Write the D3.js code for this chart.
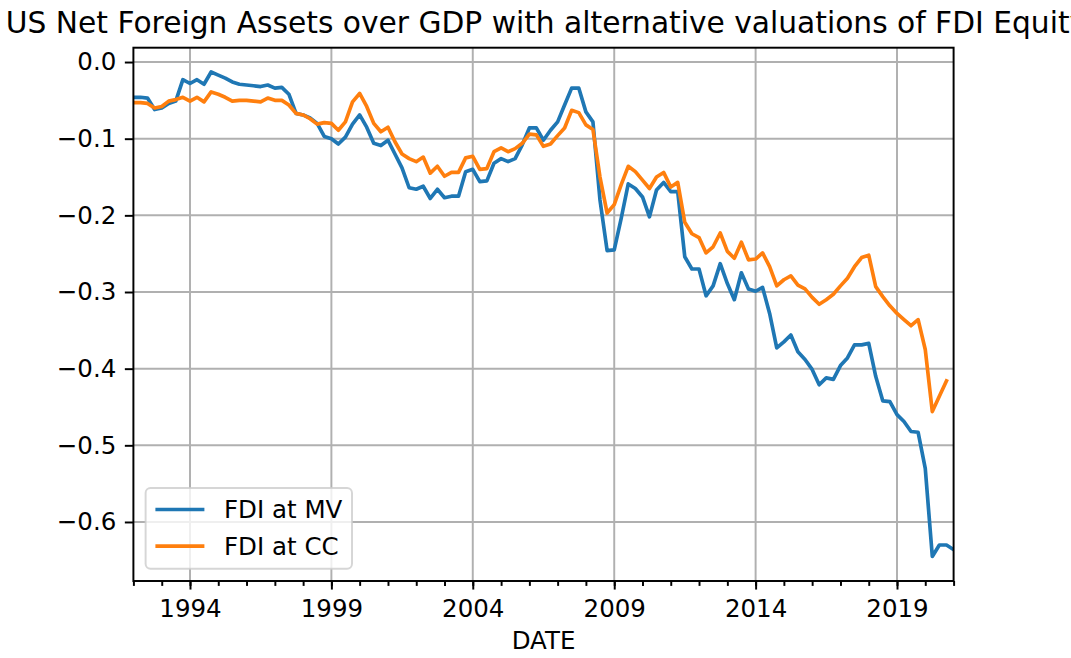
<html>
    <head>
        <meta charset="utf-8">
        <script src="https://d3js.org/d3.v7.min.js"></script>
        <style>
            body { margin: 0; background: #fff; }
            svg text { font-family: 'DejaVu Sans', sans-serif; fill: #000; }
        </style>
    </head>
    <body>
        <svg width="1071" height="658"></svg>
        <script>
            // quarterly values, 1992Q1 onward
            var mvValues = [
                -0.046, -0.046, -0.047, -0.062, -0.060, -0.054, -0.051, -0.023, -0.028, -0.023,
                -0.029, -0.013, -0.017, -0.021, -0.026, -0.029, -0.030, -0.031, -0.032, -0.030,
                -0.034, -0.033, -0.042, -0.067, -0.069, -0.073, -0.080, -0.097, -0.100, -0.107,
                -0.098, -0.081, -0.069, -0.085, -0.106, -0.109, -0.102, -0.120, -0.138, -0.164,
                -0.166, -0.162, -0.178, -0.166, -0.177, -0.175, -0.175, -0.143, -0.140, -0.156,
                -0.155, -0.132, -0.126, -0.130, -0.126, -0.108, -0.086, -0.086, -0.102, -0.089,
                -0.078, -0.056, -0.034, -0.034, -0.065, -0.078, -0.180, -0.246, -0.245, -0.204,
                -0.159, -0.165, -0.176, -0.202, -0.167, -0.157, -0.169, -0.169, -0.254, -0.270,
                -0.270, -0.305, -0.292, -0.263, -0.289, -0.310, -0.275, -0.296, -0.299, -0.294,
                -0.328, -0.373, -0.365, -0.356, -0.378, -0.388, -0.401, -0.421, -0.412, -0.414,
                -0.396, -0.386, -0.369, -0.369, -0.367, -0.410, -0.442, -0.443, -0.460, -0.469,
                -0.482, -0.483, -0.530, -0.645, -0.630, -0.630, -0.636
            ];
            var ccValues = [
                -0.053, -0.053, -0.054, -0.060, -0.058, -0.051, -0.049, -0.046, -0.051, -0.046,
                -0.052, -0.039, -0.042, -0.046, -0.051, -0.050, -0.050, -0.051, -0.052, -0.047,
                -0.050, -0.050, -0.056, -0.067, -0.069, -0.074, -0.081, -0.079, -0.080, -0.089,
                -0.078, -0.052, -0.041, -0.058, -0.080, -0.091, -0.085, -0.104, -0.120, -0.126,
                -0.130, -0.124, -0.145, -0.136, -0.149, -0.144, -0.144, -0.125, -0.123, -0.140,
                -0.139, -0.117, -0.112, -0.117, -0.113, -0.106, -0.094, -0.095, -0.110, -0.107,
                -0.096, -0.086, -0.063, -0.066, -0.082, -0.088, -0.150, -0.197, -0.186, -0.160,
                -0.136, -0.143, -0.154, -0.165, -0.150, -0.144, -0.163, -0.157, -0.209, -0.224,
                -0.229, -0.249, -0.241, -0.223, -0.247, -0.256, -0.235, -0.258, -0.257, -0.249,
                -0.267, -0.292, -0.284, -0.279, -0.291, -0.296, -0.307, -0.316, -0.310, -0.303,
                -0.292, -0.282, -0.267, -0.255, -0.252, -0.293, -0.306, -0.318, -0.328, -0.336,
                -0.344, -0.336, -0.375, -0.456, -0.436, -0.416
            ];
            var seriesNames = ['FDI at MV', 'FDI at CC'];
            var majorYears = [1994, 1999, 2004, 2009, 2014, 2019];
            var minorYears = d3.range(1992, 2022);
            var yTicks = [0, -0.1, -0.2, -0.3, -0.4, -0.5, -0.6];

            var quarters = mvValues.map((d, i) => new Date(1992, i * 3, 1));

            // plot box (don't call it "top": that's window.top)
            var plotL = 133.4, plotR = 953.6, plotT = 47.7, plotB = 581;
            var fs = 24.5;
            var colors = ['#1f77b4', '#ff7f0e'];

            var svg = d3.select('svg');
            svg.append('rect').attr('width', 1071).attr('height', 658).attr('fill', '#fff');

            var x = d3.scaleTime()
                .domain([new Date(1992, 0, 1), new Date(2021, 0, 1)])
                .range([plotL, plotR]);
            var y = d3.scaleLinear()
                .domain([-0.677, 0.0187])
                .range([plotB, plotT]);

            // grid
            var grid = svg.append('g').attr('stroke', '#b0b0b0').attr('stroke-width', 1.96);
            grid.selectAll('.gx').data(majorYears).enter().append('line')
                .attr('x1', d => x(new Date(d, 0, 1))).attr('x2', d => x(new Date(d, 0, 1)))
                .attr('y1', plotT).attr('y2', plotB);
            grid.selectAll('.gy').data(yTicks).enter().append('line')
                .attr('x1', plotL).attr('x2', plotR)
                .attr('y1', d => y(d)).attr('y2', d => y(d));

            // lines
            svg.append('clipPath').attr('id', 'clip')
                .append('rect').attr('x', plotL).attr('y', plotT)
                .attr('width', plotR - plotL).attr('height', plotB - plotT);
            var line = d3.line()
                .x((d, i) => x(quarters[i]))
                .y(d => y(d));
            [mvValues, ccValues].forEach((vals, k) => {
                svg.append('path')
                    .attr('clip-path', 'url(#clip)')
                    .attr('d', line(vals))
                    .attr('fill', 'none')
                    .attr('stroke', colors[k])
                    .attr('stroke-width', 3.67)
                    .attr('stroke-linejoin', 'round')
                    .attr('stroke-linecap', 'square');
            });

            // axes
            var xAxis = d3.axisBottom(x)
                .tickValues(majorYears.map(d => new Date(d, 0, 1)))
                .tickFormat(d3.timeFormat('%Y'))
                .tickSize(8.56).tickPadding(8.56);
            var gx = svg.append('g').attr('transform', 'translate(0,' + plotB + ')').call(xAxis);
            var xMinor = d3.axisBottom(x)
                .tickValues(minorYears.map(d => new Date(d, 0, 1)))
                .tickFormat('')
                .tickSize(4.9);
            var gxm = svg.append('g').attr('transform', 'translate(0,' + plotB + ')').call(xMinor);

            var yAxis = d3.axisLeft(y)
                .tickValues(yTicks)
                .tickFormat(d3.format('.1f'))
                .tickSize(8.56).tickPadding(8.56);
            var gy = svg.append('g').attr('transform', 'translate(' + plotL + ',0)').call(yAxis);

            [gx, gxm, gy].forEach(g => {
                g.selectAll('.domain').remove();
                g.selectAll('.tick line').attr('stroke', '#000').attr('stroke-width', 1.96);
                g.selectAll('.tick text').style('font-size', fs + 'px').attr('fill', '#000');
            });
            gx.selectAll('.tick text').attr('dy', '0.78em');

            // frame
            svg.append('rect')
                .attr('x', plotL).attr('y', plotT)
                .attr('width', plotR - plotL).attr('height', plotB - plotT)
                .attr('fill', 'none').attr('stroke', '#000').attr('stroke-width', 1.96);

            // labels (title runs past the right edge, as in the original)
            svg.append('text')
                .attr('x', (plotL + plotR) / 2 + 3).attr('y', 33)
                .attr('text-anchor', 'middle')
                .style('font-size', '29.7px')
                .text('US Net Foreign Assets over GDP with alternative valuations of FDI Equity');
            svg.append('text')
                .attr('x', (plotL + plotR) / 2).attr('y', 649)
                .attr('text-anchor', 'middle')
                .style('font-size', fs + 'px')
                .text('DATE');

            // legend
            var lg = svg.append('g');
            lg.append('rect')
                .attr('x', 145.6).attr('y', 488)
                .attr('width', 206.4).attr('height', 80.7)
                .attr('rx', 4.9).attr('ry', 4.9)
                .attr('fill', 'rgba(255,255,255,0.8)')
                .attr('stroke', 'rgba(204,204,204,0.8)')
                .attr('stroke-width', 1.96);
            var items = lg.selectAll('.item').data(seriesNames).enter().append('g')
                .attr('transform', (d, i) => 'translate(0,' + (509.5 + i * 36.7) + ')');
            items.append('line')
                .attr('x1', 155.4).attr('x2', 204.4)
                .attr('stroke', (d, i) => colors[i])
                .attr('stroke-width', 3.67);
            items.append('text')
                .attr('x', 224).attr('y', 8.8)
                .style('font-size', fs + 'px')
                .text(d => d);
        </script>
    </body>
</html>
